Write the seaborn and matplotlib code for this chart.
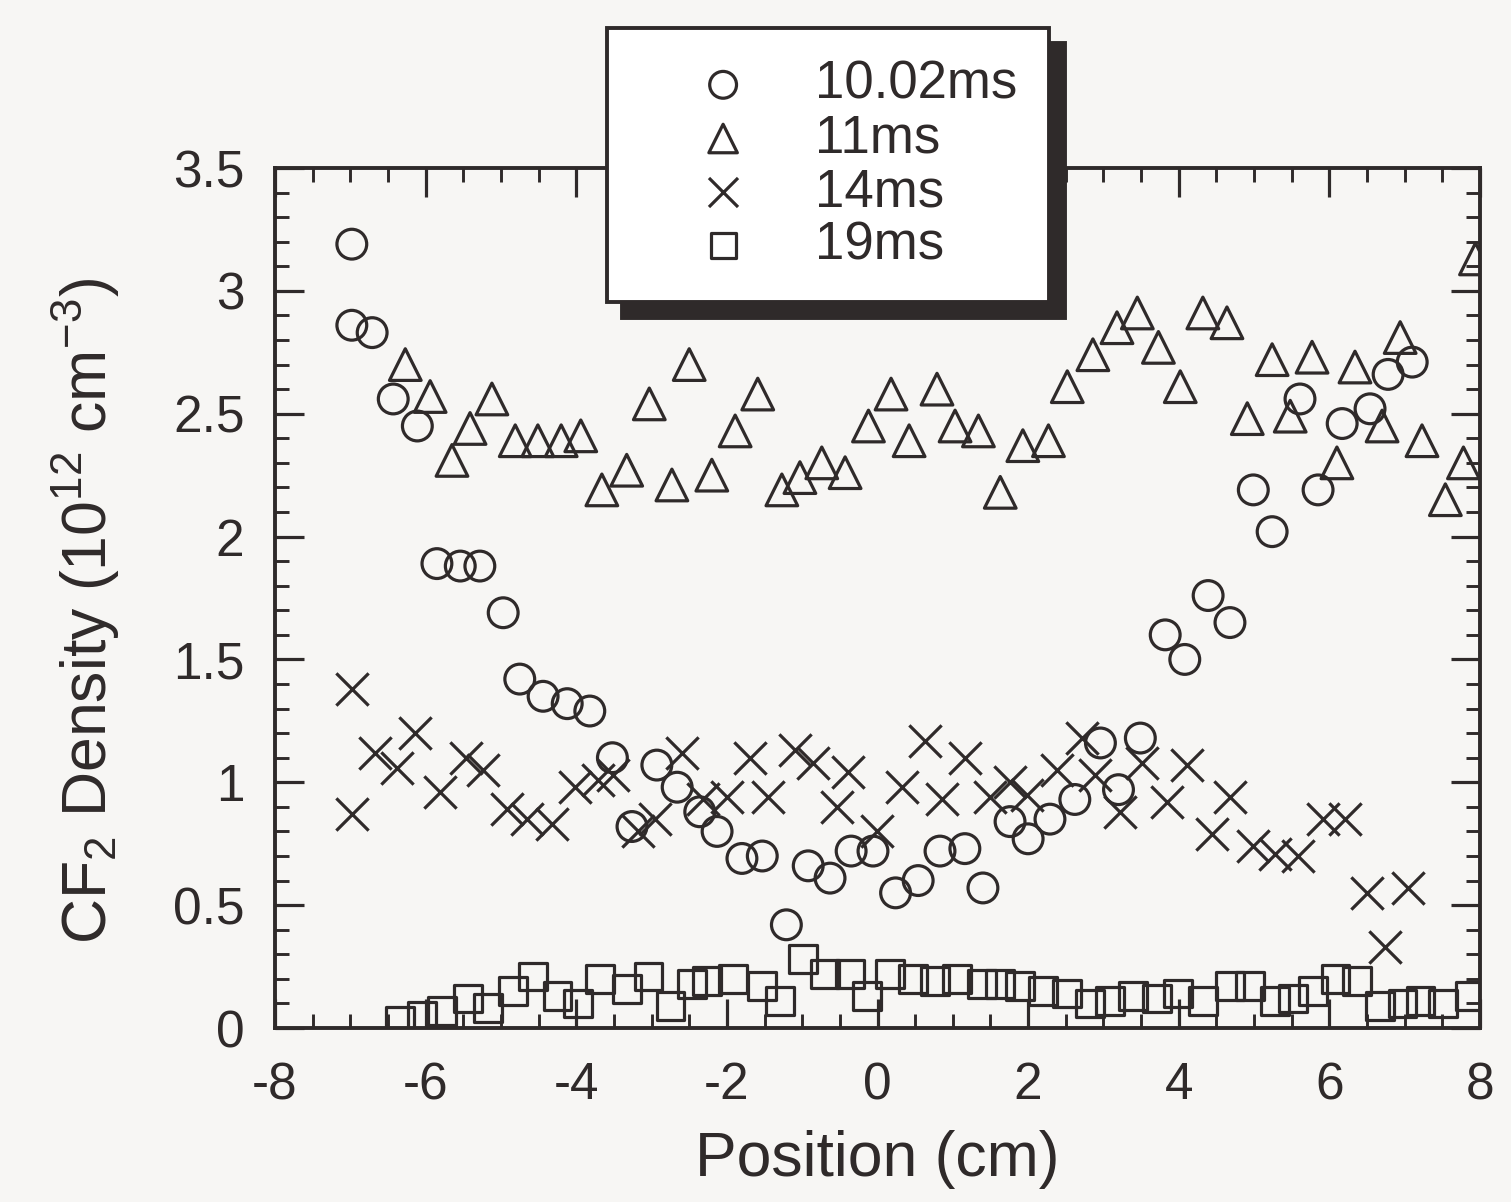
import numpy as np
import pandas as pd
import seaborn as sns
import matplotlib.pyplot as plt
from matplotlib.ticker import MultipleLocator

# 10.02 ms  (circles)
x_1002 = [-6.98, -6.98, -6.71, -6.43, -6.11, -5.85, -5.54, -5.28, -4.97, -4.75,
          -4.44, -4.12, -3.82, -3.52, -3.26, -2.93, -2.66, -2.36, -2.13, -1.80,
          -1.53, -1.21, -0.92, -0.63, -0.35, -0.06, 0.24, 0.54, 0.83, 1.16,
          1.40, 1.76, 2.00, 2.29, 2.62, 2.96, 3.20, 3.49, 3.82, 4.08,
          4.39, 4.68, 4.99, 5.24, 5.61, 5.85, 6.17, 6.54, 6.78, 7.10]
y_1002 = [3.19, 2.86, 2.83, 2.56, 2.45, 1.89, 1.88, 1.88, 1.69, 1.42,
          1.35, 1.32, 1.29, 1.10, 0.82, 1.07, 0.98, 0.88, 0.80, 0.69,
          0.70, 0.42, 0.66, 0.61, 0.72, 0.72, 0.55, 0.60, 0.72, 0.73,
          0.57, 0.84, 0.77, 0.85, 0.93, 1.16, 0.97, 1.18, 1.60, 1.50,
          1.76, 1.65, 2.19, 2.02, 2.56, 2.19, 2.46, 2.52, 2.66, 2.71]

# 11 ms  (triangles)
x_11 = [-6.27, -5.94, -5.65, -5.41, -5.12, -4.81, -4.51, -4.20, -3.94, -3.66,
        -3.33, -3.03, -2.73, -2.50, -2.20, -1.89, -1.59, -1.27, -1.03, -0.74,
        -0.43, -0.12, 0.18, 0.42, 0.79, 1.03, 1.34, 1.63, 1.93, 2.27,
        2.52, 2.86, 3.18, 3.45, 3.73, 4.02, 4.32, 4.64, 4.91, 5.24,
        5.48, 5.77, 6.10, 6.34, 6.70, 6.94, 7.23, 7.54, 7.78, 7.94]
y_11 = [2.70, 2.57, 2.31, 2.44, 2.56, 2.39, 2.39, 2.39, 2.41, 2.19,
        2.27, 2.54, 2.21, 2.70, 2.25, 2.43, 2.58, 2.19, 2.24, 2.30,
        2.26, 2.45, 2.58, 2.39, 2.60, 2.45, 2.43, 2.18, 2.37, 2.39,
        2.61, 2.74, 2.85, 2.91, 2.77, 2.61, 2.91, 2.87, 2.48, 2.72,
        2.49, 2.73, 2.30, 2.69, 2.45, 2.81, 2.39, 2.15, 2.30, 3.13]

# 14 ms  (crosses)
x_14 = [-6.98, -6.98, -6.67, -6.38, -6.14, -5.81, -5.46, -5.24, -4.92, -4.65,
        -4.32, -4.02, -3.71, -3.51, -3.18, -2.95, -2.59, -2.32, -2.00, -1.69,
        -1.45, -1.09, -0.86, -0.54, -0.39, -0.01, 0.33, 0.63, 0.86, 1.16,
        1.50, 1.76, 1.99, 2.39, 2.72, 2.89, 3.22, 3.51, 3.85, 4.11,
        4.44, 4.68, 4.99, 5.28, 5.59, 5.92, 6.21, 6.50, 6.74, 7.05]
y_14 = [1.38, 0.87, 1.12, 1.06, 1.20, 0.96, 1.10, 1.05, 0.89, 0.85,
        0.83, 0.98, 1.01, 1.03, 0.80, 0.85, 1.12, 0.93, 0.94, 1.10,
        0.94, 1.13, 1.08, 0.90, 1.04, 0.80, 0.98, 1.17, 0.93, 1.10,
        0.94, 1.00, 0.95, 1.05, 1.18, 1.03, 0.88, 1.08, 0.92, 1.07,
        0.79, 0.94, 0.74, 0.71, 0.70, 0.85, 0.85, 0.55, 0.33, 0.57]

# 19 ms  (squares)
x_19 = [-6.34, -6.05, -5.78, -5.44, -5.17, -4.84, -4.57, -4.25, -3.98, -3.68,
        -3.33, -3.04, -2.75, -2.46, -2.26, -1.92, -1.53, -1.29, -0.99, -0.70,
        -0.36, -0.14, 0.17, 0.47, 0.76, 1.06, 1.39, 1.63, 1.89, 2.20,
        2.52, 2.82, 3.09, 3.39, 3.71, 3.99, 4.32, 4.68, 4.95, 5.28,
        5.52, 5.78, 6.08, 6.37, 6.67, 6.97, 7.21, 7.51, 7.87]
y_19 = [0.03, 0.05, 0.07, 0.12, 0.08, 0.15, 0.21, 0.13, 0.10, 0.20,
        0.16, 0.21, 0.09, 0.18, 0.19, 0.20, 0.17, 0.11, 0.28, 0.22,
        0.22, 0.13, 0.22, 0.20, 0.19, 0.20, 0.18, 0.18, 0.17, 0.15,
        0.14, 0.10, 0.11, 0.13, 0.12, 0.14, 0.11, 0.17, 0.17, 0.11,
        0.12, 0.15, 0.20, 0.19, 0.09, 0.10, 0.11, 0.10, 0.13]

series_labels = ["10.02ms", "11ms", "14ms", "19ms"]

ink = "#2f2a2a"
paper = "#f7f6f4"

sns.set_style("ticks")
plt.rcParams["font.family"] = ["Liberation Sans", "DejaVu Sans"]
plt.rcParams["mathtext.fontset"] = "custom"
plt.rcParams["mathtext.rm"] = "Liberation Sans"
plt.rcParams["mathtext.it"] = "Liberation Sans:italic"
plt.rcParams["axes.unicode_minus"] = False

fig = plt.figure(figsize=(15.11, 12.02), dpi=100, facecolor=paper)
ax = fig.add_axes([275 / 1511, 1 - 1028 / 1202, 1205 / 1511, 860 / 1202])
ax.set_facecolor(paper)

lw = 2.3
sns.scatterplot(x=x_1002, y=y_1002, ax=ax, marker="o", s=460,
                facecolors="none", edgecolor=ink, linewidth=lw, label=series_labels[0])
sns.scatterplot(x=x_11, y=y_11, ax=ax, marker="^", s=520,
                facecolors="none", edgecolor=ink, linewidth=lw, label=series_labels[1])
sns.scatterplot(x=x_14, y=y_14, ax=ax, marker="x", s=540,
                color=ink, linewidth=lw, label=series_labels[2])
sns.scatterplot(x=x_19, y=y_19, ax=ax, marker="s", s=400,
                facecolors="none", edgecolor=ink, linewidth=lw, label=series_labels[3])

ax.set_xlim(-8, 8)
ax.set_ylim(0, 3.5)
ax.xaxis.set_major_locator(MultipleLocator(2))
ax.xaxis.set_minor_locator(MultipleLocator(0.5))
ax.yaxis.set_minor_locator(MultipleLocator(0.1))
ax.set_yticks([0, 0.5, 1, 1.5, 2, 2.5, 3, 3.5])
ax.set_yticklabels(["0", "0.5", "1", "1.5", "2", "2.5", "3", "3.5"])

ax.tick_params(which="both", direction="in", top=True, right=True,
               colors=ink, labelcolor=ink)
ax.tick_params(which="major", length=21, width=2.3, labelsize=37)
ax.tick_params(axis="y", which="major", pad=22)
ax.tick_params(axis="x", which="major", pad=24)
ax.tick_params(which="minor", length=10, width=2.1)
for sp in ax.spines.values():
    sp.set_visible(True)
    sp.set_linewidth(2.8)
    sp.set_color(ink)

ax.set_xlabel("Position (cm)", fontsize=45, color=ink, labelpad=14)
ax.set_ylabel("CF$_2$ Density (10$^{12}$ cm$^{-3}$)", fontsize=45, color=ink)
ax.yaxis.set_label_coords(-0.127, 0.485)

leg = ax.legend(loc="upper left", bbox_to_anchor=(607 / 1511, 1 - 28 / 1202),
                bbox_transform=fig.transFigure, fontsize=38, frameon=True,
                fancybox=False, borderpad=0.6, labelspacing=0.07,
                handlelength=3.2, handletextpad=0.15, borderaxespad=0,
                markerscale=0.9,
                shadow={"ox": 11, "oy": -11, "facecolor": ink, "edgecolor": ink, "alpha": 1.0})
leg.get_frame().set_edgecolor(ink)
leg.get_frame().set_linewidth(2.8)
leg.get_frame().set_facecolor("white")
leg.get_frame().set_alpha(1)
for t in leg.get_texts():
    t.set_color(ink)

fig.savefig("out.png", dpi=100, facecolor=paper)
